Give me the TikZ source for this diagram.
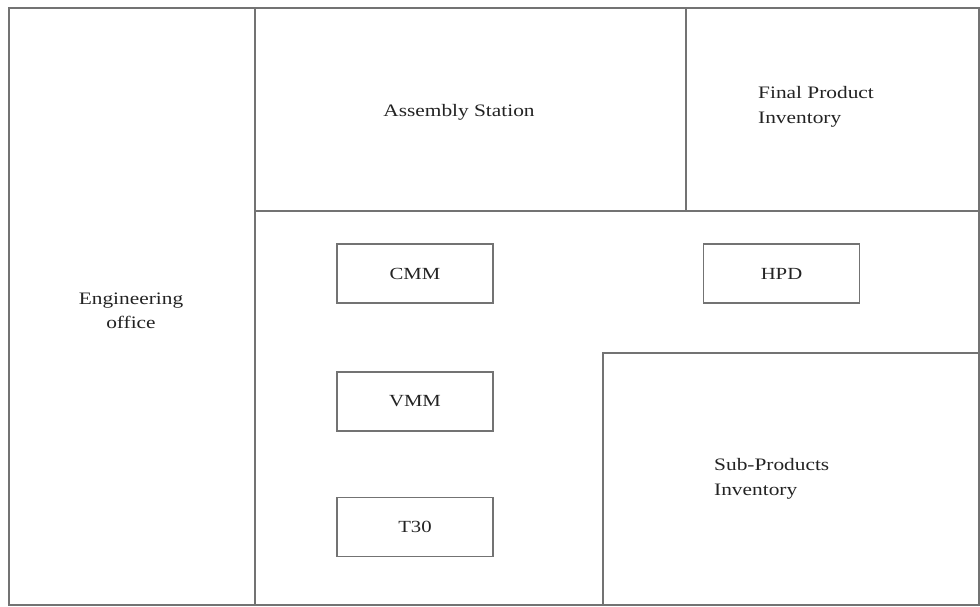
\documentclass[tikz,border=0pt]{standalone}
\usepackage{fontspec}
\setmainfont[FakeStretch=1.22]{Liberation Serif}
\definecolor{wallc}{RGB}{115,115,115}
\definecolor{txtc}{RGB}{35,35,35}
\begin{document}
\begin{tikzpicture}[x=1pt,y=-1pt,
  wall/.style={draw=wallc,line width=1.6pt},
  machine/.style={draw=wallc,line width=1.6pt,minimum width=156pt,minimum height=59pt,inner sep=0pt,font=\fontsize{17}{20}\selectfont,text=txtc},
  lbl/.style={font=\fontsize{17.5}{24.5}\selectfont,text=txtc,inner sep=0pt}]
\useasboundingbox (0,0) rectangle (980,606);
% walls
\draw[wall] (9,8) rectangle (979,605);
\draw[wall] (255,8) -- (255,605);
\draw[wall] (255,211) -- (979,211);
\draw[wall] (686,8) -- (686,211);
\draw[wall] (979,605) -- (603,605) -- (603,353) -- (979,353);
% room labels
\node[lbl,align=center] (eng) at (131,311) {Engineering\\office};
\node[lbl] (asm) at (459,112) {Assembly Station};
\node[lbl,align=left,anchor=west] (fpi) at (758,107) {Final Product\\Inventory};
\node[lbl,align=left,anchor=west] (spi) at (714,479) {Sub-Products\\Inventory};
% machines
\node[machine] (cmm) at (415,273.5) {CMM};
\node[machine] (hpd) at (781.5,273.5) {HPD};
\node[machine] (vmm) at (415,401.5) {VMM};
\node[machine] (t30) at (415,527) {T30};
\end{tikzpicture}
\end{document}
